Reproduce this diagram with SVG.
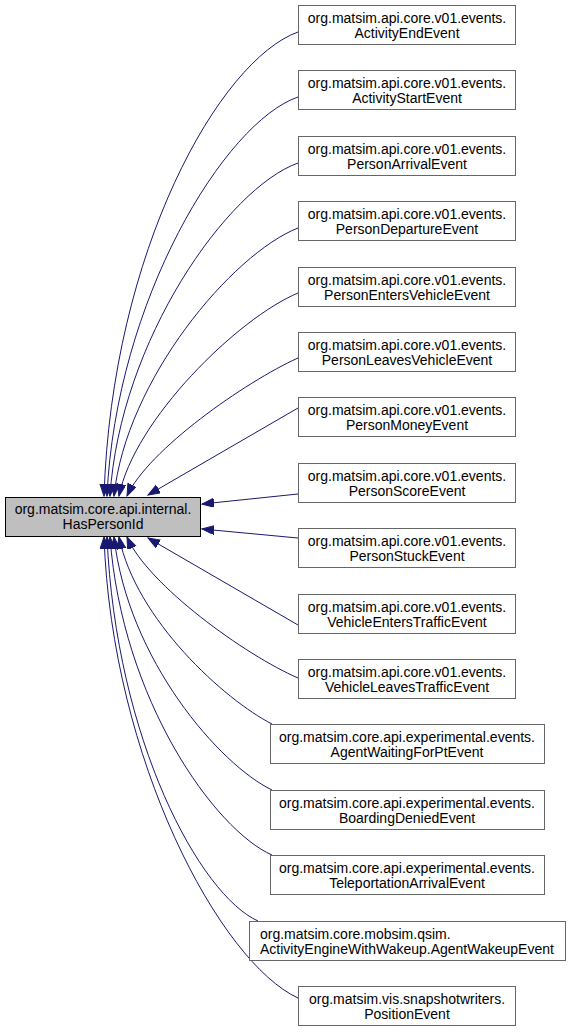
<svg xmlns="http://www.w3.org/2000/svg" width="571" height="1032" viewBox="0 0 571 1032">
<style>
.n rect{fill:#ffffff;stroke:#666666;stroke-width:1}
.cur rect{fill:#bfbfbf;stroke:#000000;stroke-width:1}
text{font-family:"Liberation Sans",Arial,Helvetica,sans-serif;font-size:14px;fill:#000000;text-anchor:middle}
text.l{text-anchor:start}
.e path{fill:none;stroke:#191970;stroke-width:1;marker-end:url(#ah)}
</style>
<defs>
<marker id="ah" markerUnits="userSpaceOnUse" markerWidth="14" markerHeight="12" refX="12" refY="4.5" orient="auto">
<path d="M0,0 L12,4.5 L0,9 z" fill="#191970" stroke="#191970" stroke-width="1"/>
</marker>
</defs>
<rect width="571" height="1032" fill="#ffffff"/>
<g id="edges" class="e">
<path d="M298,32 C220,60 112,250 104,496"/>
<path d="M298,97 C225,122 116,300 107,496"/>
<path d="M298,163 C228,188 120,340 110,496"/>
<path d="M298,228 C232,254 126,380 114,496"/>
<path d="M298,293 C238,318 134,420 119,496"/>
<path d="M298,358 C245,382 148,450 127,496"/>
<path d="M298,408 L148,495"/>
<path d="M298,494 L202,504"/>
<path d="M298,538 L202,529"/>
<path d="M298,625 L148,538"/>
<path d="M298,678 C245,655 148,585 127,537"/>
<path d="M272,724 C225,700 136,620 119,537"/>
<path d="M272,790 C220,765 128,660 114,537"/>
<path d="M272,855 C215,830 122,700 110,537"/>
<path d="M258,921 C200,895 116,740 107,537"/>
<path d="M298,998 C220,962 112,760 104,537"/>
</g>
<g id="HasPersonId" class="cur"><rect x="5.5" y="497.5" width="195" height="39"/><text x="103" y="514">org.matsim.core.api.internal.</text><text x="103" y="529">HasPersonId</text></g>
<g id="ActivityEndEvent" class="n"><rect x="298.5" y="5.5" width="217" height="39"/><text x="407" y="23">org.matsim.api.core.v01.events.</text><text x="407" y="38">ActivityEndEvent</text></g>
<g id="ActivityStartEvent" class="n"><rect x="298.5" y="70.5" width="217" height="39"/><text x="407" y="88">org.matsim.api.core.v01.events.</text><text x="407" y="103">ActivityStartEvent</text></g>
<g id="PersonArrivalEvent" class="n"><rect x="298.5" y="136.5" width="217" height="39"/><text x="407" y="154">org.matsim.api.core.v01.events.</text><text x="407" y="169">PersonArrivalEvent</text></g>
<g id="PersonDepartureEvent" class="n"><rect x="298.5" y="201.5" width="217" height="39"/><text x="407" y="219">org.matsim.api.core.v01.events.</text><text x="407" y="234">PersonDepartureEvent</text></g>
<g id="PersonEntersVehicleEvent" class="n"><rect x="298.5" y="267.5" width="217" height="39"/><text x="407" y="285">org.matsim.api.core.v01.events.</text><text x="407" y="300">PersonEntersVehicleEvent</text></g>
<g id="PersonLeavesVehicleEvent" class="n"><rect x="298.5" y="332.5" width="217" height="39"/><text x="407" y="350">org.matsim.api.core.v01.events.</text><text x="407" y="365">PersonLeavesVehicleEvent</text></g>
<g id="PersonMoneyEvent" class="n"><rect x="298.5" y="397.5" width="217" height="39"/><text x="407" y="415">org.matsim.api.core.v01.events.</text><text x="407" y="430">PersonMoneyEvent</text></g>
<g id="PersonScoreEvent" class="n"><rect x="298.5" y="463.5" width="217" height="39"/><text x="407" y="481">org.matsim.api.core.v01.events.</text><text x="407" y="496">PersonScoreEvent</text></g>
<g id="PersonStuckEvent" class="n"><rect x="298.5" y="528.5" width="217" height="39"/><text x="407" y="546">org.matsim.api.core.v01.events.</text><text x="407" y="561">PersonStuckEvent</text></g>
<g id="VehicleEntersTrafficEvent" class="n"><rect x="298.5" y="594.5" width="217" height="39"/><text x="407" y="612">org.matsim.api.core.v01.events.</text><text x="407" y="627">VehicleEntersTrafficEvent</text></g>
<g id="VehicleLeavesTrafficEvent" class="n"><rect x="298.5" y="659.5" width="217" height="39"/><text x="407" y="677">org.matsim.api.core.v01.events.</text><text x="407" y="692">VehicleLeavesTrafficEvent</text></g>
<g id="AgentWaitingForPtEvent" class="n"><rect x="270.5" y="724.5" width="274" height="39"/><text x="407" y="742">org.matsim.core.api.experimental.events.</text><text x="407" y="757">AgentWaitingForPtEvent</text></g>
<g id="BoardingDeniedEvent" class="n"><rect x="270.5" y="790.5" width="274" height="39"/><text x="407" y="808">org.matsim.core.api.experimental.events.</text><text x="407" y="823">BoardingDeniedEvent</text></g>
<g id="TeleportationArrivalEvent" class="n"><rect x="270.5" y="855.5" width="274" height="39"/><text x="407" y="873">org.matsim.core.api.experimental.events.</text><text x="407" y="888">TeleportationArrivalEvent</text></g>
<g id="AgentWakeupEvent" class="n"><rect x="249.5" y="921.5" width="316" height="39"/><text class="l" x="260" y="939">org.matsim.core.mobsim.qsim.</text><text class="l" x="260" y="954">ActivityEngineWithWakeup.AgentWakeupEvent</text></g>
<g id="PositionEvent" class="n"><rect x="298.5" y="986.5" width="217" height="39"/><text x="407" y="1004">org.matsim.vis.snapshotwriters.</text><text x="407" y="1019">PositionEvent</text></g>
</svg>
